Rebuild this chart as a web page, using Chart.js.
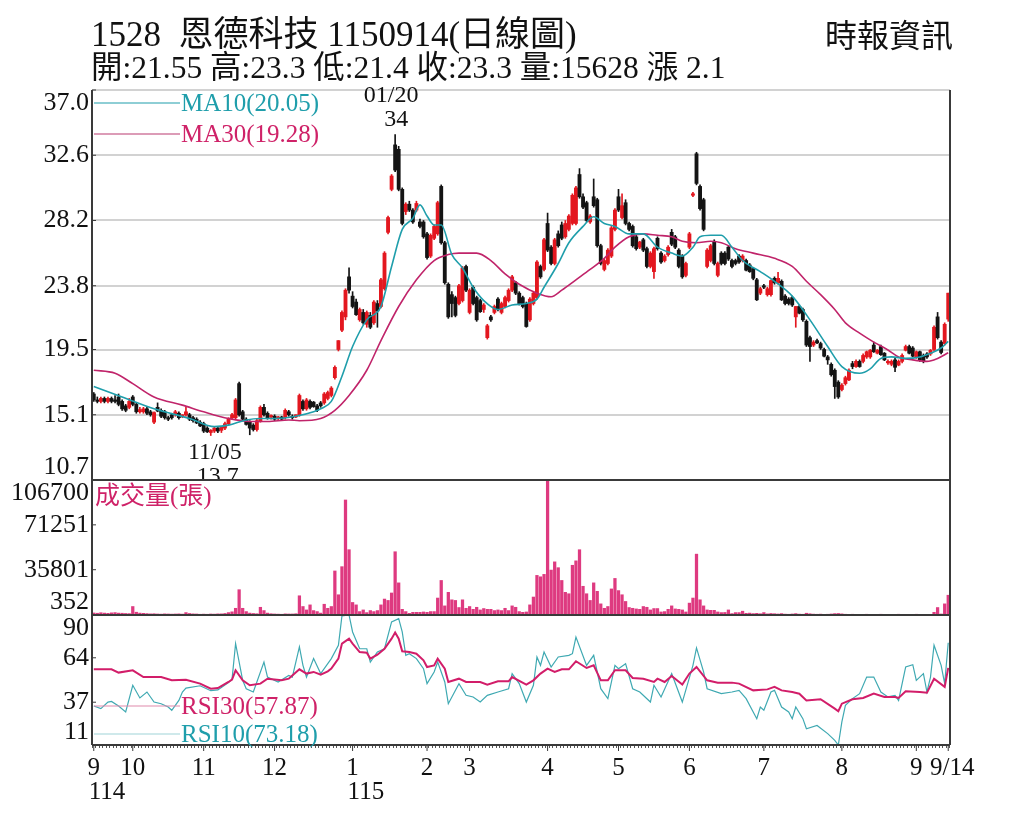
<!DOCTYPE html>
<html>
<head>
<meta charset="utf-8">
<script src="https://cdn.jsdelivr.net/npm/chart.js@4.4.1/dist/chart.umd.min.js"></script>
<style>
  body { margin: 0; background: #fff; }
  #chart { display: block; }
</style>
</head>
<body>
<canvas id="chart" width="1024" height="819" style="width:1024px;height:819px"></canvas>
<script>
// ---- daily candles, 114/09/15 .. 115/09/14 ----
const opens = [16.5,16.1,16.0,16.2,16.0,16.2,16.1,16.3,16.0,15.7,15.6,16.3,15.8,15.3,15.3,15.5,15.3,14.6,15.6,15.4,
  15.3,14.9,15.1,15.1,15.2,15.0,15.1,15.1,14.9,14.8,14.6,14.5,14.2,13.9,14.0,14.2,14.05,14.2,14.5,14.9,
  14.9,17.2,15.3,14.8,14.6,14.4,14.1,14.7,15.6,15.2,14.95,15.0,14.85,14.95,14.9,15.3,15.0,14.95,15.1,16.0,
  15.5,16.0,15.95,15.7,15.9,15.9,16.2,16.4,17.6,19.5,20.8,21.7,24.4,23.1,22.7,21.5,22.0,21.2,21.8,21.3,
  22.6,22.4,23.6,27.4,30.3,33.3,33.0,30.3,28.8,29.3,28.9,28.9,28.1,28.1,27.3,25.8,27.0,27.3,30.5,26.7,
  23.9,23.2,23.0,22.6,22.8,25.1,22.0,23.7,23.0,22.8,22.2,20.3,21.7,22.0,22.9,22.0,22.4,22.8,23.5,24.0,
  23.3,23.0,22.6,21.5,22.6,23.0,25.1,24.9,28.0,26.4,25.3,27.3,27.9,27.1,27.6,28.0,28.0,31.3,29.8,29.4,
  28.1,29.8,29.6,26.5,24.9,25.3,25.8,27.6,29.8,28.4,29.4,28.0,27.8,27.1,26.4,26.9,26.3,25.1,24.75,27.0,
  26.0,25.5,25.9,27.4,27.1,26.2,25.8,24.5,26.4,29.9,32.7,30.5,29.6,25.1,25.5,26.8,24.5,26.0,26.0,26.4,
  25.5,25.5,25.8,25.5,25.5,25.2,24.95,24.2,23.3,23.8,23.2,23.2,24.3,24.0,24.1,23.1,22.9,23.0,21.7,22.4,
  22.2,21.4,20.3,19.8,20.1,19.9,19.5,19.0,18.5,18.1,17.3,16.8,17.2,17.45,18.55,18.35,18.7,18.7,19.0,19.0,
  19.8,19.25,19.7,19.25,18.6,18.5,18.8,18.45,18.7,19.45,19.7,19.6,19.0,19.35,19.1,19.2,19.2,19.5,21.7,20.0,
  19.9,21.55];
const highs = [16.6,16.3,16.3,16.3,16.3,16.3,16.4,16.5,16.1,15.8,16.2,16.4,15.9,15.6,15.6,15.6,15.4,15.3,15.9,15.5,
  15.4,15.0,15.2,15.4,15.3,15.1,15.6,15.2,15.0,14.9,14.7,14.6,14.3,14.1,14.3,14.3,14.3,14.6,14.9,15.2,
  16.2,17.3,15.4,14.9,14.7,14.5,14.8,15.7,15.8,15.3,15.1,15.1,15.0,15.0,15.5,15.4,15.1,15.1,16.5,16.1,
  16.2,16.1,16.0,15.8,16.0,16.6,16.7,17.0,18.4,20.1,22.1,23.6,25.0,23.4,22.9,22.3,22.2,22.1,22.0,22.8,
  22.8,24.3,26.1,28.5,31.3,34.0,33.2,30.4,29.4,29.5,29.0,29.5,28.3,28.2,27.4,27.3,27.9,29.5,30.6,26.8,
  24.0,23.4,23.1,23.9,25.1,25.2,23.6,23.8,23.1,22.9,22.6,21.2,21.8,22.5,23.0,22.7,23.1,23.6,24.5,24.1,
  23.4,23.1,22.7,23.0,23.4,25.5,25.2,27.0,28.7,26.5,27.0,27.5,28.1,28.2,28.6,30.0,30.5,31.7,30.0,29.5,
  28.6,31.0,29.7,26.6,25.6,26.3,27.8,29.0,30.3,30.0,29.6,28.1,27.9,27.2,26.8,27.0,26.4,26.1,26.4,27.1,
  26.1,25.9,26.5,27.6,27.2,26.3,25.9,25.4,27.4,30.1,32.8,30.6,29.7,26.3,26.6,26.9,25.4,26.1,26.1,26.5,
  25.6,25.6,25.9,25.9,25.6,25.3,25.0,24.3,23.7,23.9,23.7,24.2,24.4,24.7,24.2,23.2,23.0,23.1,22.4,22.5,
  22.3,21.5,20.4,20.1,20.2,20.0,19.6,19.1,18.6,18.2,17.4,17.2,17.7,18.2,18.7,18.8,18.8,19.2,19.4,19.5,
  20.0,19.5,19.8,19.3,18.8,18.8,18.9,18.8,19.2,19.8,19.8,19.7,19.4,19.4,19.2,19.3,19.5,21.1,22.0,20.1,
  21.3,23.3];
const lows = [16.0,15.9,15.9,15.9,15.9,15.9,15.9,15.7,15.4,15.3,15.5,15.7,15.2,15.2,15.2,15.1,15.0,14.5,15.3,14.9,
  14.8,14.7,14.8,15.0,14.8,14.9,15.0,14.7,14.6,14.5,14.3,13.9,13.9,13.7,13.9,13.9,13.9,14.1,14.4,14.8,
  14.8,15.0,14.7,14.4,13.75,14.0,14.0,14.6,15.0,14.8,14.8,14.7,14.7,14.7,14.8,15.0,14.8,14.9,15.0,15.4,
  15.4,15.5,15.6,15.3,15.6,15.8,16.1,16.3,17.5,19.4,20.7,21.5,23.3,22.3,21.8,21.4,21.2,21.0,20.9,21.2,
  21.0,22.3,23.5,27.3,30.2,31.5,30.2,27.9,28.6,28.8,28.0,28.8,27.7,27.0,25.6,25.7,26.9,27.2,26.6,23.9,
  21.6,21.7,21.7,22.5,22.7,23.4,21.9,22.5,21.4,22.0,22.0,20.2,21.4,21.9,22.1,21.9,22.3,22.7,23.4,23.2,
  22.5,22.3,21.0,21.4,22.5,22.9,24.3,24.8,26.1,25.2,25.2,26.4,26.9,27.0,27.5,27.9,27.9,29.7,29.0,28.1,
  28.0,29.1,26.4,25.2,24.8,25.2,25.7,27.5,28.8,28.3,27.9,27.5,26.4,26.2,26.3,26.1,25.0,25.0,24.3,26.2,
  25.3,25.4,25.8,26.5,26.3,25.0,24.3,24.4,26.3,29.8,30.6,28.9,27.5,25.0,25.4,25.2,24.4,25.2,25.2,25.5,
  25.0,25.2,25.3,25.4,24.8,24.7,24.2,22.8,23.2,23.6,23.1,23.1,23.9,23.9,22.8,22.5,22.5,22.4,21.0,21.9,
  21.4,19.7,18.7,19.7,19.9,19.5,19.0,18.5,17.7,16.2,16.2,16.7,17.1,17.4,18.2,18.3,18.3,18.6,18.9,18.9,
  19.3,19.2,19.1,18.75,18.5,18.4,18.0,18.4,18.6,19.4,19.2,19.0,18.9,18.7,18.6,18.9,19.1,19.4,20.2,19.2,
  19.8,21.4];
const closes = [16.1,16.0,16.2,16.0,16.2,16.0,16.0,15.8,15.5,15.4,16.0,15.8,15.3,15.45,15.5,15.2,15.1,15.25,15.35,15.0,
  14.9,14.8,14.9,15.3,14.9,15.1,15.3,14.8,14.7,14.55,14.35,14.0,13.95,14.05,14.2,14.0,14.25,14.5,14.8,15.1,
  16.1,15.1,14.8,14.45,14.2,14.1,14.7,15.6,15.1,14.9,15.05,14.8,14.95,14.8,15.4,15.1,14.9,15.1,16.4,15.5,
  16.1,15.6,15.65,15.4,15.7,16.5,16.6,16.9,18.3,20.1,22.0,23.5,23.5,22.4,21.85,22.2,21.3,22.0,21.0,22.7,
  22.1,24.2,26.0,28.4,31.2,31.6,30.3,28.0,29.3,28.9,28.1,29.35,27.8,27.1,25.7,27.2,27.8,29.4,26.7,24.0,
  21.7,22.6,21.8,23.8,25.0,23.5,23.5,22.6,21.5,22.05,22.5,21.1,21.5,22.4,22.2,22.6,23.0,23.5,24.4,23.3,
  22.6,22.4,21.05,22.9,23.3,25.4,24.4,26.9,26.2,25.3,26.9,26.5,27.0,28.0,28.5,29.9,30.4,29.8,29.1,28.2,
  28.5,29.2,26.5,25.3,25.5,26.2,27.7,28.9,28.9,29.2,28.0,27.6,26.5,26.3,26.75,26.2,25.1,26.0,26.3,26.3,
  25.4,25.8,26.4,26.6,26.4,25.1,24.4,25.3,27.3,30.0,30.7,29.0,27.6,26.2,26.5,25.3,25.3,25.3,25.3,25.6,
  25.1,25.3,25.4,25.8,24.85,24.75,24.3,22.85,23.6,23.7,23.6,24.15,24.0,24.3,22.85,22.6,22.6,22.5,22.4,21.95,
  21.5,19.8,19.7,20.0,19.95,19.6,19.05,18.8,17.8,17.0,16.3,17.1,17.6,18.1,18.35,18.7,18.35,19.1,19.35,19.45,
  19.35,19.45,19.15,18.8,18.7,18.7,18.3,18.7,19.1,19.7,19.25,19.05,19.35,18.8,18.7,19.0,19.45,21.0,20.3,19.3,
  21.2,23.3];
const volumes = [1600,1400,1800,1500,1300,1700,1900,1500,1400,1200,1100,6700,
  2200,1500,1300,1100,900,1000,800,700,900,800,700,800,900,700,
  1900,1200,900,800,600,700,600,800,700,900,900,1200,
  1900,2500,5300,20000,5300,2700,1500,1200,1000,
  6100,3500,1500,1000,800,700,600,900,800,800,1000,
  15200,6700,4000,8000,3500,2700,1500,8500,5300,6700,
  34800,16000,38200,90900,51600,9900,8000,2700,4000,1900,3500,2700,
  3500,8000,12600,11500,17400,50000,25400,4500,2700,1300,
  2100,2100,2100,2400,2100,2700,2700,13400,27300,7200,
  17900,12000,11500,5900,12000,5300,6700,4500,6100,4000,
  5100,4500,4500,3500,4000,3500,5300,3500,7200,6100,
  2700,2100,2400,8000,14200,31300,30200,32100,106700,35500,
  42000,37400,27300,17900,16800,39300,42800,51600,22700,16800,
  11500,25400,18700,8800,5300,6700,20600,28900,19300,16000,
  10700,5900,5300,4800,4500,6700,6100,4000,5100,5100,
  2400,2700,4500,7200,4800,4500,4000,2400,9400,13400,
  48100,12000,7200,4000,3700,3700,2400,1900,2000,4000,
  1100,1900,1900,3000,1300,1500,1100,1300,1000,1900,
  900,1200,1000,800,1100,700,600,800,1100,700,
  600,1400,1000,700,600,700,500,600,800,1100,
  1200,900,600,500,600,500,400,500,600,500,
  400,500,600,500,400,500,500,600,400,500,
  500,400,600,500,400,500,500,
  2100,5900,800,8800,15628];

// moving averages: [day, value]
const ma10Pts = [[0,17.0],[8,16.3],[17,15.5],[27,14.85],[34,14.3],[38,14.4],[43,14.75],[47,14.85],[51,14.85],[57,15.0],
  [62,15.3],[64,15.5],[67,16.0],[70,17.7],[73,19.7],[77,21.5],[81,22.4],[84,25.1],[87,27.6],[90,28.35],[92,29.25],
  [94,28.5],[96,27.9],[98,27.9],[101,25.9],[104,25.0],[107,23.7],[110,22.8],[114,22.2],[118,22.5],[122,22.6],
  [125,22.9],[127,23.7],[131,25.3],[134,26.7],[138,27.8],[141,28.45],[144,28.0],[147,27.8],[151,27.3],[155,27.3],
  [159,26.4],[163,26.0],[166,25.8],[169,26.4],[171,27.1],[174,27.2],[177,27.2],[180,26.4],[183,25.5],[188,24.75],
  [192,24.1],[197,23.1],[202,21.5],[207,19.7],[211,18.35],[216,17.9],[219,18.2],[222,18.9],[225,19.0],[229,18.9],
  [233,19.0],[236,19.25],[239,19.6],[241,20.05]];
const ma30Pts = [[0,18.1],[6,17.9],[11,17.2],[17,16.3],[25,15.75],[31,15.3],[38,14.85],[44,14.65],[49,14.65],[55,14.75],
  [58,14.7],[64,14.85],[68,15.4],[72,16.4],[77,18.1],[81,20.1],[86,22.4],[91,24.2],[96,25.5],[100,25.9],[103,26.0],
  [108,26.0],[112,25.5],[116,24.6],[120,23.9],[125,23.3],[129,23.06],[132,23.5],[136,24.2],[140,24.9],[144,25.65],
  [147,26.4],[151,27.1],[155,27.3],[159,27.2],[163,27.1],[166,26.8],[170,26.7],[174,26.8],[177,26.7],[181,26.3],
  [186,26.0],[192,25.65],[197,25.1],[201,24.1],[205,23.2],[209,22.2],[212,21.3],[216,20.6],[220,20.0],[224,19.47],
  [227,19.0],[231,18.8],[235,18.7],[238,18.9],[241,19.28]];

// RSI: [day, value]
const rsi30Pts = [[0,57.0],[5,57.0],[7,55.0],[11,56.4],[14,52.3],[19,52.3],[22,50.3],[26,50.7],[30,48.3],[33,45.2],
  [35,45.6],[38,49.3],[39,50.7],[40,56.4],[42,50.3],[44,47.3],[47,48.3],[49,51.3],[53,50.3],[55,51.3],[56,53.3],
  [58,57.0],[60,54.4],[62,55.4],[64,53.7],[66,55.8],[67,57.4],[69,63.5],[70,72.6],[72,75.6],[73,72.6],[75,67.5],
  [77,67.1],[78,63.5],[80,65.9],[82,69.5],[84,75.6],[85,79.3],[86,75.6],[87,67.9],[89,67.5],[91,66.5],[93,62.5],
  [94,58.4],[96,59.4],[97,63.5],[99,57.4],[100,49.3],[103,51.3],[105,49.3],[109,49.3],[111,47.7],[114,49.7],
  [117,49.7],[118,52.3],[122,47.7],[124,50.3],[126,54.4],[128,57.4],[130,55.4],[132,57.0],[134,57.0],[136,61.9],
  [139,57.8],[141,59.4],[143,50.3],[145,50.3],[147,56.4],[150,56.4],[152,51.7],[155,51.3],[158,49.3],[159,51.3],
  [161,49.3],[163,52.9],[166,47.7],[168,54.4],[170,58.4],[173,50.3],[176,48.9],[180,48.9],[182,48.3],[186,44.2],
  [190,44.8],[192,46.3],[194,44.2],[197,43.2],[199,42.2],[201,38.1],[205,38.8],[209,33.1],[210,31.5],[211,36.1],
  [214,38.8],[217,39.6],[220,42.2],[223,40.2],[226,40.2],[227,39.6],[229,43.6],[233,43.2],[235,42.8],[237,51.3],
  [240,46.3],[241,57.87]];
const rsi10Pts = [[0,34.7],[2,33.1],[4,37.1],[5,37.5],[7,34.7],[9,31.1],[11,47.3],[13,39.6],[15,43.2],[17,37.1],
  [19,36.1],[21,34.1],[22,32.1],[24,38.1],[25,43.2],[26,45.6],[30,47.0],[33,44.0],[35,44.5],[38,49.0],[39,51.0],
  [40,72.6],[42,50.3],[43,45.2],[45,43.2],[48,61.4],[49,52.3],[52,49.3],[55,53.3],[56,52.3],[58,70.6],[59,59.4],
  [60,52.3],[62,63.5],[64,54.4],[67,63.5],[69,71.6],[70,89.5],[72,90.0],[73,79.7],[75,69.5],[77,69.5],[78,61.4],
  [80,67.5],[82,69.5],[84,85.8],[86,87.8],[87,79.7],[88,65.5],[89,66.5],[91,63.5],[93,57.4],[94,48.3],[96,55.4],
  [97,61.4],[99,49.3],[100,36.1],[103,48.3],[105,41.2],[107,40.2],[109,37.1],[111,41.2],[114,43.2],[117,45.2],
  [118,54.4],[120,48.3],[122,37.1],[124,47.3],[125,64.5],[126,59.4],[127,67.5],[129,58.4],[131,64.5],[134,65.5],
  [135,66.5],[136,76.6],[139,59.4],[141,65.5],[143,45.2],[145,39.2],[147,59.4],[148,57.4],[150,60.4],[152,45.2],
  [154,43.2],[157,37.1],[158,47.3],[160,40.2],[163,54.4],[166,37.1],[169,59.4],[170,70.0],[172,55.4],[173,45.2],
  [177,42.2],[180,43.2],[182,44.2],[184,39.2],[187,27.0],[188,34.1],[189,32.1],[191,43.2],[192,44.2],[194,34.1],
  [196,31.1],[197,27.0],[198,34.1],[200,27.0],[201,20.9],[204,22.9],[207,17.9],[209,13.8],[210,11.0],[211,25.0],
  [212,35.1],[214,39.2],[216,42.2],[218,52.3],[220,52.3],[222,43.2],[224,40.2],[226,41.2],[227,38.1],[229,58.4],
  [231,59.8],[232,50.3],[234,54.4],[235,43.2],[236,52.3],[237,71.6],[239,59.4],[240,48.3],[241,73.18]];

// axis ticks
const priceTicks = [37.0, 32.6, 28.2, 23.8, 19.5, 15.1, 10.7];
const volTicks = [106700, 71251, 35801, 352];
const rsiTicks = [90, 64, 37, 11];
const monthStart = [0, 11, 31, 51, 73, 94, 106, 128, 148, 168, 189, 211, 232, 241];
const monthLabels = ['9', '10', '11', '12', '1', '2', '3', '4', '5', '6', '7', '8', '9', '9/14'];
const yearStart = [0, 73];
const yearLabels = ['114', '115'];

const N = closes.length;
const FONT = '"Liberation Serif", "Noto Sans CJK TC", serif';
const UP = '#e3171f', DOWN = '#141414';
const TEAL = '#1f9eab', MAG = '#cf2268';

const fill = pts => {
  const a = new Array(N).fill(null);
  pts.forEach(([i, v]) => a[i] = v);
  return a;
};
const candleColor = closes.map((c, i) => c >= opens[i] ? UP : DOWN);

const overlay = {
  id: 'overlay',
  afterDraw(chart) {
    const ctx = chart.ctx, a = chart.chartArea;
    const sx = chart.scales.x, sy = chart.scales.y, sv = chart.scales.yv, sr = chart.scales.yr;
    const line = (x1, y1, x2, y2) => { ctx.beginPath(); ctx.moveTo(x1, y1); ctx.lineTo(x2, y2); ctx.stroke(); };
    ctx.save();

    // header
    ctx.fillStyle = '#111';
    ctx.textBaseline = 'alphabetic';
    ctx.textAlign = 'left';
    ctx.font = '35px ' + FONT;
    ctx.fillText('1528  恩德科技 1150914(日線圖)', 91, 46);
    ctx.font = '31.5px ' + FONT;
    ctx.fillText('開:21.55 高:23.3 低:21.4 收:23.3 量:15628 漲 2.1', 91, 78);
    ctx.font = '32px ' + FONT;
    ctx.textAlign = 'right';
    ctx.fillText('時報資訊', 953, 47);

    // point annotations (clipped to price panel)
    ctx.save();
    ctx.beginPath(); ctx.rect(a.left, sy.top - 20, a.right - a.left, sy.bottom - sy.top + 20); ctx.clip();
    ctx.font = '24px ' + FONT;
    ctx.textAlign = 'center'; ctx.textBaseline = 'middle';
    const hx = sx.getPixelForValue(85), hy = sy.getPixelForValue(34);
    ctx.fillText('01/20', hx - 4, hy - 39);
    ctx.fillText('34', hx + 1, hy - 15);
    const lx = sx.getPixelForValue(33), ly = sy.getPixelForValue(13.7);
    ctx.fillText('11/05', lx + 4, ly + 17);
    ctx.fillText('13.7', lx + 7, ly + 41);
    ctx.restore();

    // frame
    ctx.strokeStyle = '#3a3a3a'; ctx.lineWidth = 2;
    line(a.left, a.top, a.left, a.bottom);
    line(a.right, a.top, a.right, a.bottom);
    line(a.left, sy.bottom, a.right, sy.bottom);
    line(a.left, sv.bottom, a.right, sv.bottom);
    line(a.left, a.bottom, a.right, a.bottom);

    // y labels, end labels kept inside their panel
    ctx.fillStyle = '#111';
    ctx.font = '26px ' + FONT;
    ctx.textAlign = 'right'; ctx.textBaseline = 'middle';
    ctx.lineWidth = 1;
    const yLabels = (s, vals, fmt) => vals.forEach(v => {
      const py = s.getPixelForValue(v);
      line(a.left, py, a.left + 4, py);
      ctx.fillText(fmt(v), a.left - 3, Math.min(Math.max(py, s.top + 13), s.bottom - 13));
    });
    yLabels(sy, priceTicks, v => v.toFixed(1));
    yLabels(sv, volTicks, v => String(v));
    yLabels(sr, rsiTicks, v => String(v));

    // x labels
    ctx.font = '25px ' + FONT;
    ctx.textAlign = 'center';
    monthStart.forEach((d, k) => {
      const px = sx.getPixelForValue(d);
      const last = k === monthStart.length - 1;
      ctx.fillText(monthLabels[k], px + (last ? 4 : 0), 768);
      line(px, a.bottom, px, a.bottom + 6);
    });
    ctx.textAlign = 'left';
    yearStart.forEach((d, k) => ctx.fillText(yearLabels[k], sx.getPixelForValue(d) - 5, 792));

    // legends
    const legend = (y, color, text, sampleColor) => {
      ctx.strokeStyle = sampleColor; ctx.lineWidth = 1.2;
      line(a.left + 2, y, a.left + 88, y);
      ctx.fillStyle = color; ctx.textAlign = 'left';
      ctx.fillText(text, a.left + 89, y + 1);
    };
    legend(103, TEAL, 'MA10(20.05)', TEAL);
    legend(134, MAG, 'MA30(19.28)', '#b93a70');
    legend(706, MAG, 'RSI30(57.87)', '#e08aac');
    legend(734, TEAL, 'RSI10(73.18)', '#9fd3d8');
    ctx.fillStyle = MAG;
    ctx.fillText('成交量(張)', a.left + 3, 497);

    ctx.restore();
  }
};

new Chart(document.getElementById('chart'), {
  type: 'bar',
  data: {
    labels: closes.map((_, i) => String(i)),
    datasets: [
      { type: 'line', data: fill(ma10Pts), yAxisID: 'y', borderColor: TEAL, borderWidth: 1.6,
        pointRadius: 0, spanGaps: true, cubicInterpolationMode: 'monotone', order: 0 },
      { type: 'line', data: fill(ma30Pts), yAxisID: 'y', borderColor: '#c0246a', borderWidth: 1.6,
        pointRadius: 0, spanGaps: true, cubicInterpolationMode: 'monotone', order: 0 },
      { data: lows.map((l, i) => [l, highs[i]]), yAxisID: 'y', backgroundColor: candleColor,
        barThickness: 1, grouped: false, order: 2 },
      { data: opens.map((o, i) => [o, closes[i]]), yAxisID: 'y', backgroundColor: candleColor,
        barThickness: 3.2, grouped: false, order: 1 },
      { data: volumes, yAxisID: 'yv', backgroundColor: '#de3a80', borderColor: '#c41a62',
        borderWidth: 0, barThickness: 2.6, grouped: false, order: 1 },
      { type: 'line', data: fill(rsi30Pts), yAxisID: 'yr', borderColor: '#d21d69', borderWidth: 2,
        pointRadius: 0, spanGaps: true, tension: 0, order: 0 },
      { type: 'line', data: fill(rsi10Pts), yAxisID: 'yr', borderColor: '#3fa9b2', borderWidth: 1.2,
        pointRadius: 0, spanGaps: true, tension: 0, order: 0 }
    ]
  },
  options: {
    responsive: false,
    animation: false,
    devicePixelRatio: 1,
    layout: { padding: { top: 90, right: 74, bottom: 0, left: 0 } },
    plugins: { legend: { display: false }, tooltip: { enabled: false } },
    scales: {
      x: {
        type: 'category', offset: true,
        grid: { display: true, drawOnChartArea: false, drawTicks: true, tickLength: 3, color: '#555' },
        border: { display: false },
        ticks: { display: false },
        afterFit(s) { s.height = 74; }
      },
      y: {
        position: 'left', stack: 'panels', stackWeight: 390, weight: 3,
        min: 10.7, max: 37.0,
        afterBuildTicks(s) { s.ticks = priceTicks.map(v => ({ value: v })); },
        grid: { color: '#d2d2d2', lineWidth: 2, drawTicks: false },
        border: { display: false },
        ticks: { display: false },
        afterFit(s) { s.width = 92; }
      },
      yv: {
        position: 'left', stack: 'panels', stackWeight: 135, weight: 2,
        min: 0, max: 106700,
        grid: { display: false }, border: { display: false }, ticks: { display: false },
        afterFit(s) { s.width = 92; }
      },
      yr: {
        position: 'left', stack: 'panels', stackWeight: 130, weight: 1,
        min: 11, max: 90,
        grid: { display: false }, border: { display: false }, ticks: { display: false },
        afterFit(s) { s.width = 92; }
      }
    }
  },
  plugins: [overlay]
});
</script>
</body>
</html>
